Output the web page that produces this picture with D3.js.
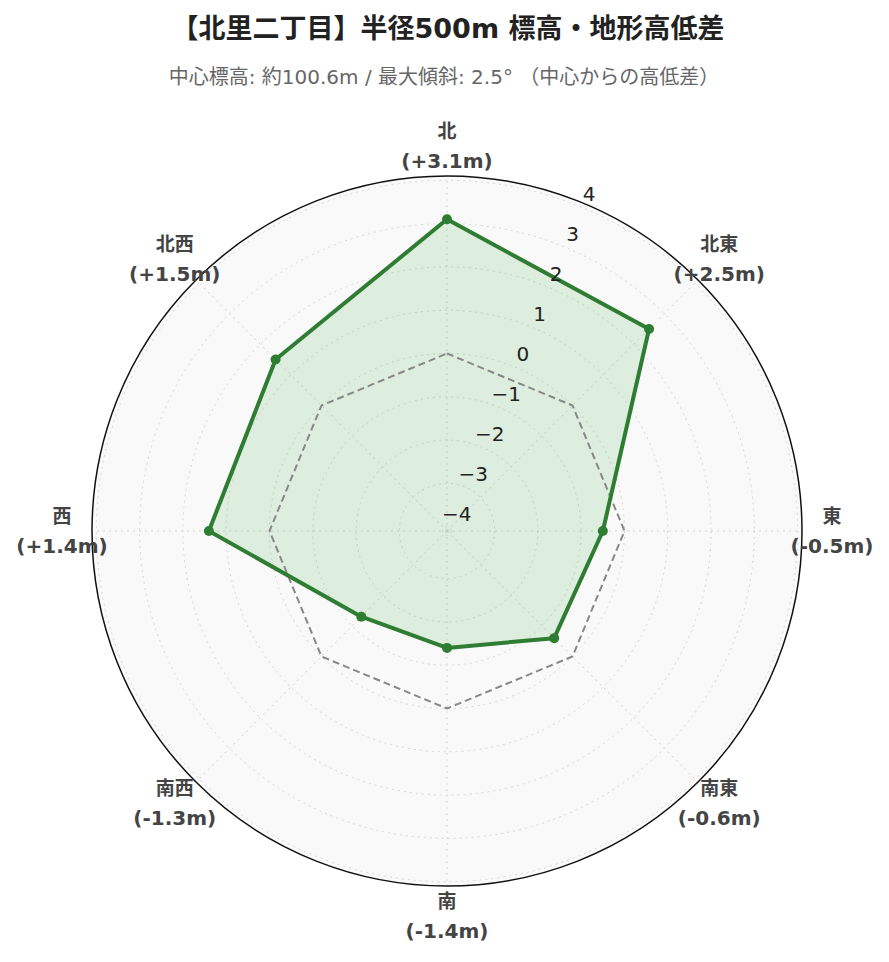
<!DOCTYPE html>
<html><head><meta charset="utf-8">
<script src="https://cdn.jsdelivr.net/npm/d3@7"></script>
<style>
html,body{margin:0;padding:0;background:#fff;}
svg{display:block;}
text{font-family:"DejaVu Sans","Noto Sans CJK JP",sans-serif;}
</style></head>
<body><svg id="chart" width="889" height="962"></svg>
<script>
const directions = ["北","北東","東","南東","南","南西","西","北西"];
const elevDiff = [3.1, 2.5, -0.5, -0.6, -1.4, -1.3, 1.4, 1.5];
const radialTicks = [-4,-3,-2,-1,0,1,2,3,4];
const radialDomain = [-4.1, 4.1];
const titleText = "【北里二丁目】半径500m 標高・地形高低差";
const subtitleText = "中心標高: 約100.6m / 最大傾斜: 2.5° （中心からの高低差）";

const svg = d3.select("#chart");
const cx = 447, cy = 531, R = 355;
const r = d3.scaleLinear().domain(radialDomain).range([0, R]);
const ang = d3.scalePoint().domain(directions).range([0, 360 * (directions.length-1)/directions.length]);
const rad = d => d * Math.PI / 180;
const px = (a, rr) => cx + rr * Math.sin(rad(a));
const py = (a, rr) => cy - rr * Math.cos(rad(a));

svg.append("text").attr("x", 448).attr("y", 38).attr("text-anchor","middle")
  .attr("font-size", 27).attr("font-weight","bold").attr("fill","#222").text(titleText);
svg.append("text").attr("x", 444).attr("y", 84).attr("text-anchor","middle")
  .attr("font-size", 20).attr("fill","#666").text(subtitleText);

const g = svg.append("g");
g.append("circle").attr("cx",cx).attr("cy",cy).attr("r",R).attr("fill","#f9f9f9");

// circular grid
g.selectAll(".rg").data(radialTicks).join("circle")
  .attr("cx",cx).attr("cy",cy).attr("r", d => r(d))
  .attr("fill","none").attr("stroke","#d6d6d6").attr("stroke-width",1).attr("stroke-dasharray","2,4");
// angular grid
g.selectAll(".ag").data(directions).join("line")
  .attr("x1",cx).attr("y1",cy)
  .attr("x2", d => px(ang(d), R)).attr("y2", d => py(ang(d), R))
  .attr("stroke","#d6d6d6").attr("stroke-width",1).attr("stroke-dasharray","2,4");

g.append("circle").attr("cx",cx).attr("cy",cy).attr("r",R).attr("fill","none").attr("stroke","#111").attr("stroke-width",1.5);

const line = d3.lineRadial().angle(d => rad(ang(d.dir))).radius(d => r(d.v)).curve(d3.curveLinearClosed);
const pts = directions.map((dir,i)=>({dir, v: elevDiff[i]}));
const zero = directions.map(dir=>({dir, v:0}));

const plot = g.append("g").attr("transform",`translate(${cx},${cy})`);
plot.append("path").attr("d", line(pts)).attr("fill","rgba(76,175,80,0.16)").attr("stroke","none");
plot.append("path").attr("d", line(zero)).attr("fill","none").attr("stroke","#888").attr("stroke-width",2).attr("stroke-dasharray","7,4");
plot.append("path").attr("d", line(pts)).attr("fill","none").attr("stroke","#2e7d32").attr("stroke-width",4).attr("stroke-linejoin","round");
plot.selectAll(".pt").data(pts).join("circle")
  .attr("cx", d => r(d.v)*Math.sin(rad(ang(d.dir))))
  .attr("cy", d => -r(d.v)*Math.cos(rad(ang(d.dir))))
  .attr("r",5).attr("fill","#2e7d32");

// radial tick labels
const tickAngle = 22.5;
g.selectAll(".rt").data(radialTicks).join("text")
  .attr("x", d => px(tickAngle, r(d)) + 8)
  .attr("y", d => py(tickAngle, r(d)) - 13)
  .attr("dy","0.36em")
  .attr("text-anchor","middle").attr("font-size",20).attr("fill","#222")
  .text(d => d < 0 ? "\u2212" + Math.abs(d) : String(d));

// angular labels
const fmt = v => (v >= 0 ? "+" : "") + v.toFixed(1) + "m";
const lab = g.selectAll(".al").data(pts).join("g")
  .attr("transform", d => `translate(${px(ang(d.dir),385)},${py(ang(d.dir),385)})`);
lab.append("text").attr("y",-15).attr("dy","0.36em").attr("text-anchor","middle")
  .attr("font-size",19).attr("font-weight","bold").attr("fill","#444").text(d => d.dir);
lab.append("text").attr("y",15).attr("dy","0.36em").attr("text-anchor","middle")
  .attr("font-size",20).attr("font-weight","bold").attr("fill","#444").text(d => "(" + fmt(d.v) + ")");
</script></body></html>
